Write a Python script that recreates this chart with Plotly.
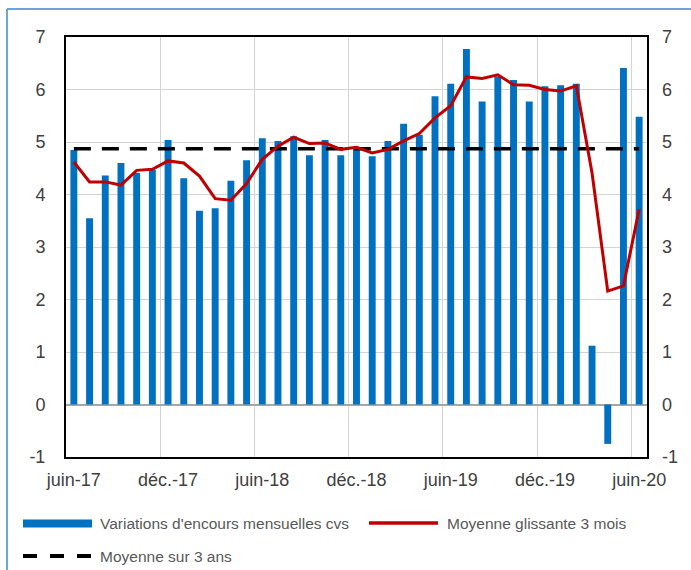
import plotly.graph_objects as go

# ---------------- data ----------------
months = [
    "juin-17", "juil.-17", "août-17", "sept.-17", "oct.-17", "nov.-17",
    "déc.-17", "janv.-18", "févr.-18", "mars-18", "avr.-18", "mai-18",
    "juin-18", "juil.-18", "août-18", "sept.-18", "oct.-18", "nov.-18",
    "déc.-18", "janv.-19", "févr.-19", "mars-19", "avr.-19", "mai-19",
    "juin-19", "juil.-19", "août-19", "sept.-19", "oct.-19", "nov.-19",
    "déc.-19", "janv.-20", "févr.-20", "mars-20", "avr.-20", "mai-20",
    "juin-20",
]
tick_labels = ["juin-17", "déc.-17", "juin-18", "déc.-18", "juin-19", "déc.-19", "juin-20"]

monthly_change = [
    4.85, 3.55, 4.36, 4.60, 4.41, 4.47, 5.04, 4.31, 3.69, 3.74, 4.26, 4.65,
    5.07, 5.02, 5.11, 4.75, 5.04, 4.75, 4.90, 4.73, 5.02, 5.35, 5.14, 5.87,
    6.11, 6.77, 5.77, 6.25, 6.18, 5.77, 6.06, 6.08, 6.11, 1.12, -0.75, 6.41,
    5.48,
]
moving_avg_3m = [
    4.62, 4.24, 4.24, 4.18, 4.46, 4.48, 4.64, 4.60, 4.35, 3.92, 3.89, 4.21,
    4.67, 4.92, 5.09, 4.97, 4.98, 4.86, 4.90, 4.79, 4.86, 5.02, 5.16, 5.46,
    5.69, 6.24, 6.21, 6.28, 6.09, 6.08, 6.00, 5.97, 6.07, 4.41, 2.16, 2.26,
    3.72,
]
mean_3y = 4.87
y_ticks = [-1, 0, 1, 2, 3, 4, 5, 6, 7]
y_tick_text = ["-1", "0", "1", "2", "3", "4", "5", "6", "7"]

series_names = [
    "Variations d'encours mensuelles cvs",
    "Moyenne glissante 3 mois",
    "Moyenne sur 3 ans",
]

# ---------------- styles / layout ----------------
W, H = 691, 570
L, R, T, B = 66, 44, 37, 113
BLUE = "#0070C0"
RED = "#C00000"
FONT = "Liberation Sans, Arial, sans-serif"


def px_x(px):
    return (px - L) / (W - L - R)


def px_y(py):
    return (H - B - py) / (H - T - B)


n = len(months)
idx = list(range(n))
boundaries = [i - 0.5 for i in idx if i > 0 and i % 6 == 0]

fig = go.Figure()
fig.add_trace(go.Bar(
    x=months, y=monthly_change, name=series_names[0],
    marker=dict(color=BLUE, line=dict(width=0)),
    xaxis="x", yaxis="y",
))
fig.add_trace(go.Scatter(
    x=months, y=[mean_3y] * n, name=series_names[2], mode="lines",
    line=dict(color="black", width=3.5, dash="17px,11px"),
    xaxis="x", yaxis="y",
))
fig.add_trace(go.Scatter(
    x=idx, y=moving_avg_3m, name=series_names[1], mode="lines",
    line=dict(color=RED, width=3),
    xaxis="x2", yaxis="y2",
))

fig.update_layout(
    width=W, height=H,
    margin=dict(l=L, r=R, t=T, b=B, pad=0),
    paper_bgcolor="white", plot_bgcolor="white",
    showlegend=False,
    bargap=0.56,
    font=dict(family=FONT, color="#404040"),
    xaxis=dict(
        type="category", range=[-0.5, n - 0.5],
        tickmode="array", tickvals=tick_labels, ticktext=tick_labels,
        tickfont=dict(size=18, color="#404040"),
        ticks="", ticklabelstandoff=5,
        showgrid=False, zeroline=False,
        showline=True, linecolor="black", linewidth=2, mirror=True,
    ),
    xaxis2=dict(
        overlaying="x", range=[-0.5, n - 0.5],
        tickmode="array", tickvals=boundaries, showticklabels=False,
        ticks="", showgrid=True, gridcolor="#D4D4D4", gridwidth=1,
        zeroline=False, showline=False,
    ),
    yaxis=dict(
        range=[-1, 7], tickmode="array", tickvals=y_ticks, ticktext=y_tick_text,
        tickfont=dict(size=18, color="#404040"),
        ticks="", ticklabelstandoff=15,
        showgrid=True, gridcolor="#D4D4D4", gridwidth=1,
        zeroline=True, zerolinecolor="#A6A6A6", zerolinewidth=2,
        showline=True, linecolor="black", linewidth=2, mirror=True,
    ),
    yaxis2=dict(
        overlaying="y", side="right", range=[-1, 7],
        tickmode="array", tickvals=y_ticks, ticktext=y_tick_text,
        tickfont=dict(size=18, color="#404040"),
        ticks="", ticklabelstandoff=14,
        showgrid=False, zeroline=False, showline=False,
    ),
)

# outer frame (left + top edges visible in the reference)
FRAME = "#6FA3DA"
fig.add_shape(type="line", xref="paper", yref="paper",
              x0=px_x(7), x1=px_x(W + 5), y0=px_y(9), y1=px_y(9),
              line=dict(color=FRAME, width=2))
fig.add_shape(type="line", xref="paper", yref="paper",
              x0=px_x(7), x1=px_x(7), y0=px_y(9), y1=px_y(H + 5),
              line=dict(color=FRAME, width=2))

# manual legend
LEG_FONT = dict(family=FONT, size=15.5, color="#595959")
fig.add_shape(type="rect", xref="paper", yref="paper",
              x0=px_x(23), x1=px_x(92), y0=px_y(527.5), y1=px_y(519.5),
              fillcolor=BLUE, line=dict(width=0))
fig.add_annotation(xref="paper", yref="paper", x=px_x(98), y=px_y(523),
                   text=series_names[0], showarrow=False,
                   xanchor="left", yanchor="middle", font=LEG_FONT)
fig.add_shape(type="line", xref="paper", yref="paper",
              x0=px_x(369), x1=px_x(438), y0=px_y(523), y1=px_y(523),
              line=dict(color=RED, width=3.5))
fig.add_annotation(xref="paper", yref="paper", x=px_x(445), y=px_y(523),
                   text=series_names[1], showarrow=False,
                   xanchor="left", yanchor="middle", font=LEG_FONT)
fig.add_shape(type="line", xref="paper", yref="paper",
              x0=px_x(23), x1=px_x(92), y0=px_y(556), y1=px_y(556),
              line=dict(color="black", width=4, dash="14px,13px"))
fig.add_annotation(xref="paper", yref="paper", x=px_x(98), y=px_y(556),
                   text=series_names[2], showarrow=False,
                   xanchor="left", yanchor="middle", font=LEG_FONT)

fig.write_html(
    "out.html",
    config={"displayModeBar": False},
    post_script="document.body.style.margin='0';document.body.style.overflow='hidden';",
)
